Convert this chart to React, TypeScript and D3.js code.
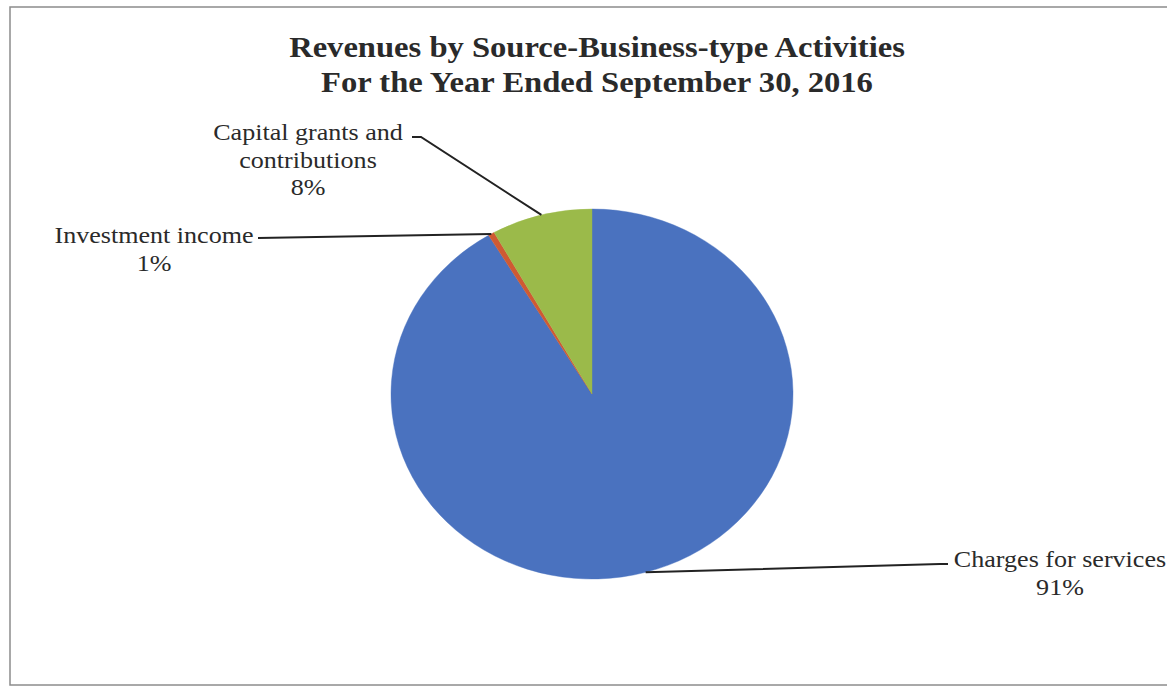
import React from "react";
import * as d3 from "d3";

const categories = ["Charges for services", "Investment income", "Capital grants and contributions"];
const values = [91.4, 0.5, 8.1];
const colors = ["#4a72bf", "#cf5a33", "#9bba4a"];
const titleLines = ["Revenues by Source-Business-type Activities", "For the Year Ended September 30, 2016"];

const W = 1167;
const H = 687;
const cx = 592;
const cy = 394;
const ry = 185;
const rx = 201;
const sx = rx / ry;

// label layout (lines of text, anchor centre, first baseline, leader path end near label)
const labelLayout = [
  { lines: ["Charges for services"], x: 1060, y: 567, leader: [[940, 564], [948, 564]] },
  { lines: ["Investment income"], x: 154, y: 243, leader: [[258, 238]] },
  { lines: ["Capital grants and", "contributions"], x: 308, y: 140, leader: [[421, 137], [412, 137]] },
];

export default function App() {
  const pie = d3.pie<number>().sort(null).value((d) => d)(values);
  const arc = d3.arc<d3.PieArcDatum<number>>().innerRadius(0).outerRadius(ry);
  const total = d3.sum(values);

  const rim = (a: number) => [cx + rx * Math.sin(a), cy - ry * Math.cos(a)];

  return (
    <svg
      width={W}
      height={H}
      style={{ position: "absolute", left: 0, top: 0, background: "#fff" }}
      fontFamily="'Liberation Serif', 'Times New Roman', serif"
    >
      <rect x={0} y={0} width={W} height={H} fill="#fff" />
      <rect x={10} y={7} width={1170} height={678} fill="none" stroke="#8c8c8c" strokeWidth={1.5} />

      {titleLines.map((t, i) => (
        <g key={t} transform={`translate(597,${57 + i * 35}) scale(${sx},1)`}>
          <text textAnchor="middle" fontWeight="bold" fontSize={30} fill="#2a2a2a">
            {t}
          </text>
        </g>
      ))}

      <g transform={`translate(${cx},${cy}) scale(${sx},1)`}>
        {pie.map((p, i) => (
          <path key={i} d={arc(p) || ""} fill={colors[i]} stroke={colors[i]} strokeWidth={0.4} />
        ))}
      </g>

      {pie.map((p, i) => {
        const mid = (p.startAngle + p.endAngle) / 2;
        const [px, py] = rim(mid);
        const L = labelLayout[i];
        const pts = [[px, py], ...L.leader];
        const pct = `${Math.round((p.value / total) * 100)}%`;
        const lines = [...L.lines, pct];
        return (
          <g key={categories[i]}>
            <polyline
              points={pts.map((q) => q.join(",")).join(" ")}
              fill="none"
              stroke="#222"
              strokeWidth={2}
            />
            {lines.map((t, j) => (
              <g key={j} transform={`translate(${L.x},${L.y + j * 27.5}) scale(${sx},1)`}>
                <text textAnchor="middle" fontSize={24} fill="#2a2a2a">
                  {t}
                </text>
              </g>
            ))}
          </g>
        );
      })}
    </svg>
  );
}
